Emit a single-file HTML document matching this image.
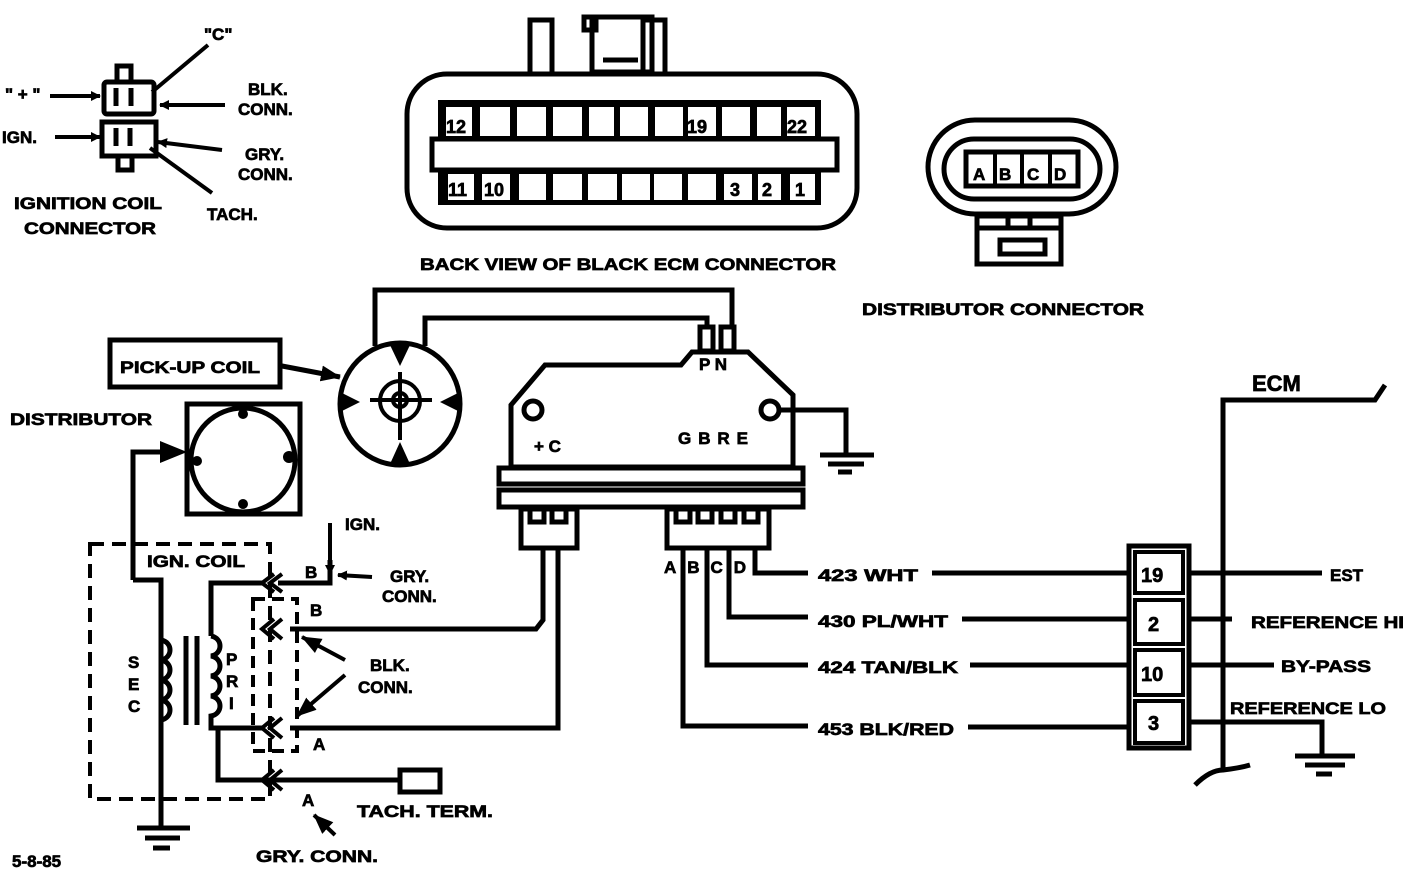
<!DOCTYPE html>
<html><head><meta charset="utf-8"><style>
html,body{margin:0;padding:0;background:#fff;}
svg{display:block;}
text{font-family:"Liberation Sans",sans-serif;font-weight:bold;fill:#000;stroke:#000;stroke-width:0.7px;}
</style></head><body>
<svg width="1408" height="890" viewBox="0 0 1408 890" xmlns="http://www.w3.org/2000/svg">
<defs>
<marker id="ar" markerWidth="10" markerHeight="10" refX="9" refY="5" orient="auto" markerUnits="userSpaceOnUse" viewBox="0 0 10 10"><path d="M0,0 L10,5 L0,10 z" fill="#000"/></marker>
<marker id="arb" markerWidth="20" markerHeight="20" refX="19" refY="10" orient="auto" markerUnits="userSpaceOnUse" viewBox="0 0 20 20"><path d="M0,2 L20,10 L0,18 z" fill="#000"/></marker>
</defs>
<g fill="none" stroke="#000" stroke-width="5">

<rect x="104" y="82" width="50" height="32" rx="3"/>
<rect x="117" y="66" width="14" height="16"/>
<rect x="102" y="122" width="54" height="34"/>
<rect x="118" y="156" width="14" height="14"/>
<line x1="116" y1="88" x2="116" y2="106"/><line x1="131" y1="88" x2="131" y2="106"/>
<line x1="116" y1="128" x2="116" y2="146"/><line x1="130" y1="128" x2="130" y2="146"/>
<line x1="50" y1="96" x2="100" y2="96" marker-end="url(#ar)" stroke-width="4"/>
<line x1="55" y1="137" x2="100" y2="137" marker-end="url(#ar)" stroke-width="4"/>
<line x1="225" y1="105" x2="160" y2="105" marker-end="url(#ar)" stroke-width="4"/>
<line x1="222" y1="150" x2="158" y2="142" marker-end="url(#ar)" stroke-width="4"/>
<line x1="208" y1="45" x2="152" y2="92" stroke-width="4"/>
<line x1="212" y1="193" x2="150" y2="148" stroke-width="4"/>

<rect x="407" y="74" width="450" height="154" rx="40"/>
<rect x="530" y="20" width="22" height="54"/>
<rect x="592" y="17" width="60" height="55"/>
<rect x="584" y="17" width="12" height="13"/>
<rect x="643" y="20" width="22" height="54"/>
<line x1="603" y1="60" x2="638" y2="60"/>
</g>
<rect x="438" y="100" width="383" height="105" fill="#000"/>
<g fill="#fff">
<rect x="446" y="107" width="26" height="29"/><rect x="480" y="107" width="30" height="29"/><rect x="517" y="107" width="29" height="29"/><rect x="553" y="107" width="29" height="29"/><rect x="589" y="107" width="25" height="29"/><rect x="620" y="107" width="28" height="29"/><rect x="655" y="107" width="28" height="29"/><rect x="688" y="107" width="28" height="29"/><rect x="722" y="107" width="28" height="29"/><rect x="757" y="107" width="24" height="29"/><rect x="787" y="107" width="28" height="29"/>
<rect x="448" y="174" width="26" height="26"/><rect x="482" y="174" width="28" height="26"/><rect x="519" y="174" width="27" height="26"/><rect x="553" y="174" width="29" height="26"/><rect x="588" y="174" width="29" height="26"/><rect x="622" y="174" width="28" height="26"/><rect x="654" y="174" width="28" height="26"/><rect x="688" y="174" width="28" height="26"/><rect x="724" y="174" width="28" height="26"/><rect x="758" y="174" width="23" height="26"/><rect x="790" y="174" width="25" height="26"/>
</g>
<rect x="432" y="139" width="405" height="31" fill="#fff" stroke="#000" stroke-width="5"/>
<g font-size="18">
<text x="446" y="133">12</text><text x="687" y="133">19</text><text x="787" y="133">22</text>
<text x="448" y="196">11</text><text x="484" y="196">10</text><text x="730" y="196">3</text><text x="762" y="196">2</text><text x="795" y="196">1</text>
</g>

<g fill="none" stroke="#000" stroke-width="5">
<rect x="928" y="120" width="188" height="94" rx="47"/>
<rect x="944" y="139" width="156" height="60" rx="30"/>
<rect x="966" y="152" width="112" height="34"/>
<line x1="995" y1="152" x2="995" y2="186" stroke-width="4"/><line x1="1022" y1="152" x2="1022" y2="186" stroke-width="4"/><line x1="1050" y1="152" x2="1050" y2="186" stroke-width="4"/>
<rect x="977" y="216" width="84" height="48"/>
<rect x="1000" y="240" width="45" height="14"/>
<line x1="977" y1="228" x2="1061" y2="228"/>
<line x1="1008" y1="216" x2="1008" y2="228"/><line x1="1030" y1="216" x2="1030" y2="228"/>
</g>
<g font-size="17"><text x="973" y="180">A</text><text x="999" y="180">B</text><text x="1027" y="180">C</text><text x="1054" y="180">D</text></g>

<g font-size="17">
<text x="204" y="40">"C"</text>
<text x="5" y="100">" + "</text>
<text x="2" y="143">IGN.</text>
<text x="248" y="95">BLK.</text><text x="238" y="115">CONN.</text>
<text x="245" y="160">GRY.</text><text x="238" y="180">CONN.</text>
<text x="207" y="220">TACH.</text>
<text x="14" y="209" textLength="148" lengthAdjust="spacingAndGlyphs">IGNITION COIL</text>
<text x="24" y="234" textLength="132" lengthAdjust="spacingAndGlyphs">CONNECTOR</text>
<text x="420" y="270" textLength="416" lengthAdjust="spacingAndGlyphs">BACK VIEW OF BLACK ECM CONNECTOR</text>
<text x="862" y="315" textLength="282" lengthAdjust="spacingAndGlyphs">DISTRIBUTOR CONNECTOR</text>
</g>

<g fill="none" stroke="#000" stroke-width="5">
<rect x="110" y="340" width="170" height="47"/>
<line x1="282" y1="366" x2="340" y2="377" marker-end="url(#arb)"/>
<ellipse cx="400" cy="404" rx="60" ry="61"/>
<circle cx="400" cy="401" r="20" stroke-width="4"/>
<circle cx="400" cy="400" r="7" stroke-width="4"/>
<line x1="370" y1="400" x2="432" y2="400" stroke-width="4"/>
<line x1="400" y1="372" x2="400" y2="440" stroke-width="4"/>
<polyline points="375,346 375,290 732,290 732,326"/>
<polyline points="425,346 425,318 707,318 707,326"/>
<rect x="187" y="404" width="113" height="110"/>
<circle cx="243" cy="460" r="52"/>
<polyline points="133,580 133,452 170,452"/>
<polyline points="133,580 161,580 161,830"/>
</g>
<path d="M160,441 L187,452 L160,463 z"/>
<g fill="#000">
<path d="M390,345 L410,345 L400,366 z"/><path d="M390,464 L410,464 L400,442 z"/>
<path d="M340,392 L340,412 L360,402 z"/><path d="M460,392 L460,412 L440,402 z"/>
<circle cx="243" cy="414" r="5"/><circle cx="289" cy="457" r="6"/><circle cx="243" cy="504" r="5"/><circle cx="197" cy="461" r="5"/>
</g>
<g font-size="17">
<text x="120" y="373" textLength="140" lengthAdjust="spacingAndGlyphs">PICK-UP COIL</text>
<text x="10" y="425" textLength="142" lengthAdjust="spacingAndGlyphs">DISTRIBUTOR</text>
</g>

<g fill="none" stroke="#000" stroke-width="5">
<polygon points="511,405 545,365 681,365 692,352 748,352 793,395 793,467 511,467"/>
<rect x="700" y="327" width="13" height="24"/><rect x="721" y="327" width="13" height="24"/>
<circle cx="533" cy="410" r="9"/>
<circle cx="770" cy="410" r="9"/>
<polyline points="779,410 846,410 846,455"/>
<line x1="820" y1="455" x2="874" y2="455"/><line x1="828" y1="464" x2="864" y2="464"/><line x1="838" y1="472" x2="852" y2="472"/>
<rect x="499" y="468" width="304" height="16"/>
<rect x="499" y="490" width="304" height="17"/>
<rect x="521" y="509" width="56" height="39"/>
<polyline points="530,509 530,522 544,522 544,509"/><polyline points="552,509 552,522 566,522 566,509"/>
<rect x="667" y="509" width="102" height="39"/>
<polyline points="676,509 676,522 690,522 690,509"/><polyline points="698,509 698,522 712,522 712,509"/><polyline points="721,509 721,522 735,522 735,509"/><polyline points="744,509 744,522 758,522 758,509"/>
<polyline points="543,548 543,620 536,629 290,629"/>
<polyline points="558,548 558,728 290,728"/>
<polyline points="755,548 755,573 808,573"/>
<polyline points="729,548 729,617 808,617"/>
<polyline points="707,548 707,665 808,665"/>
<polyline points="683,548 683,726 808,726"/>
<line x1="932" y1="573" x2="1130" y2="573"/>
<line x1="962" y1="619" x2="1130" y2="619"/>
<line x1="970" y1="665" x2="1130" y2="665"/>
<line x1="968" y1="727" x2="1130" y2="727"/>
</g>
<g font-size="17">
<text x="534" y="452">+ C</text>
<text x="678" y="444" textLength="70" lengthAdjust="spacing">G B R E</text>
<text x="699" y="370">P N</text>
<text x="664" y="573" textLength="82" lengthAdjust="spacing">ABCD</text>
<text x="818" y="581" textLength="100" lengthAdjust="spacingAndGlyphs">423 WHT</text>
<text x="818" y="627" textLength="130" lengthAdjust="spacingAndGlyphs">430 PL/WHT</text>
<text x="818" y="673" textLength="140" lengthAdjust="spacingAndGlyphs">424 TAN/BLK</text>
<text x="818" y="735" textLength="136" lengthAdjust="spacingAndGlyphs">453 BLK/RED</text>
</g>

<g fill="none" stroke="#000" stroke-width="5">
<rect x="1129" y="546" width="60" height="202"/>
<rect x="1135" y="552" width="48" height="41" stroke-width="4"/>
<rect x="1135" y="600" width="48" height="44" stroke-width="4"/>
<rect x="1135" y="650" width="48" height="45" stroke-width="4"/>
<rect x="1135" y="701" width="48" height="42" stroke-width="4"/>
<polyline points="1223,770 1223,400 1375,400 1385,385"/>
<path d="M1195,785 Q1210,770 1223,770 Q1240,768 1250,765"/>
<line x1="1189" y1="573" x2="1322" y2="573"/>
<line x1="1189" y1="619" x2="1232" y2="619"/>
<line x1="1189" y1="665" x2="1274" y2="665"/>
<polyline points="1189,722 1322,722 1322,755"/>
<line x1="1295" y1="756" x2="1355" y2="756"/><line x1="1305" y1="765" x2="1345" y2="765"/><line x1="1316" y1="774" x2="1332" y2="774"/>
</g>
<g font-size="20">
<text x="1141" y="582">19</text><text x="1148" y="631">2</text><text x="1141" y="681">10</text><text x="1148" y="730">3</text>
</g>
<g font-size="17">
<text x="1252" y="391" font-size="22">ECM</text>
<text x="1330" y="581">EST</text>
<text x="1251" y="628" textLength="153" lengthAdjust="spacingAndGlyphs">REFERENCE HI</text>
<text x="1281" y="672" textLength="90" lengthAdjust="spacingAndGlyphs">BY-PASS</text>
<text x="1230" y="714" textLength="156" lengthAdjust="spacingAndGlyphs">REFERENCE LO</text>
</g>

<g fill="none" stroke="#000" stroke-width="5">
<rect x="90" y="544" width="180" height="255" stroke-dasharray="14,8" stroke-width="4"/>
<rect x="253" y="599" width="44" height="152" stroke-dasharray="12,7" stroke-width="4"/>
<path d="M161,640 c12,2 12,18 0,20 c12,2 12,18 0,20 c12,2 12,18 0,20 c12,2 12,18 0,20" fill="none"/>
<line x1="186" y1="636" x2="186" y2="725"/><line x1="197" y1="636" x2="197" y2="725"/>
<polyline points="262,583 211,583 211,636"/>
<path d="M211,636 c12,2 12,18 0,20 c12,2 12,18 0,20 c12,2 12,18 0,20 c12,2 12,18 0,20 L211,728 L262,728"/>
<polyline points="218,728 218,780 262,780"/>
<line x1="262" y1="780" x2="400" y2="780"/>
<rect x="400" y="770" width="40" height="22"/>
<polyline points="278,583 330,583 330,560"/>
<line x1="330" y1="523" x2="330" y2="574" marker-end="url(#ar)" stroke-width="4"/>
<line x1="372" y1="577" x2="338" y2="575" marker-end="url(#ar)" stroke-width="4"/>
<line x1="345" y1="660" x2="302" y2="637" marker-end="url(#arb)" stroke-width="4"/>
<line x1="345" y1="675" x2="297" y2="716" marker-end="url(#arb)" stroke-width="4"/>
<line x1="335" y1="835" x2="314" y2="815" marker-end="url(#arb)" stroke-width="4"/>
<line x1="137" y1="828" x2="190" y2="828"/><line x1="145" y1="838" x2="180" y2="838"/><line x1="153" y1="848" x2="170" y2="848"/>
<g stroke-width="4">
<polyline points="274,574 262,583 274,592"/><polyline points="282,574 270,583 282,592"/>
<polyline points="274,619 262,629 274,639"/><polyline points="282,619 270,629 282,639"/>
<polyline points="274,718 262,728 274,738"/><polyline points="282,718 270,728 282,738"/>
<polyline points="274,770 262,780 274,790"/><polyline points="282,770 270,780 282,790"/>
</g>
</g>
<g font-size="17">
<text x="147" y="567" textLength="98" lengthAdjust="spacingAndGlyphs">IGN. COIL</text>
<text x="128" y="668">S</text><text x="128" y="690">E</text><text x="128" y="712">C</text>
<text x="226" y="665">P</text><text x="226" y="687">R</text><text x="229" y="709">I</text>
<text x="305" y="578">B</text><text x="310" y="616">B</text><text x="313" y="750">A</text><text x="302" y="806">A</text>
<text x="345" y="530">IGN.</text>
<text x="390" y="582">GRY.</text><text x="382" y="602">CONN.</text>
<text x="370" y="671">BLK.</text><text x="358" y="693">CONN.</text>
<text x="357" y="817" textLength="136" lengthAdjust="spacingAndGlyphs">TACH. TERM.</text>
<text x="256" y="862" textLength="122" lengthAdjust="spacingAndGlyphs">GRY. CONN.</text>
<text x="12" y="867">5-8-85</text>
</g>
</svg>
</body></html>
